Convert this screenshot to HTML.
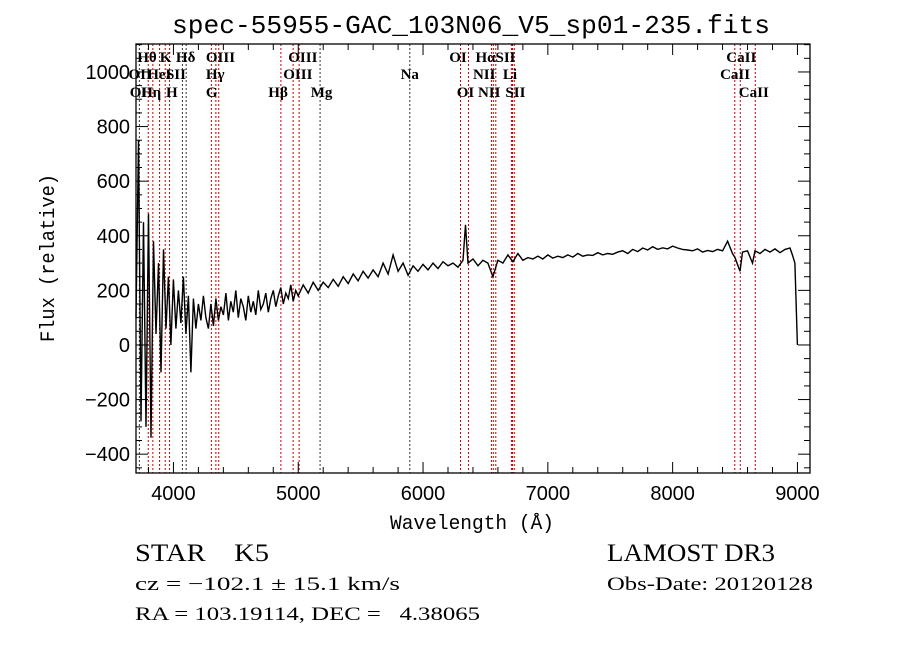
<!DOCTYPE html>
<html><head><meta charset="utf-8"><style>
html,body{margin:0;padding:0;background:#fff;}
svg{display:block;}
</style></head><body>
<svg id="chart" width="900" height="649" viewBox="0 0 900 649" xmlns="http://www.w3.org/2000/svg">
<rect x="0" y="0" width="900" height="649" fill="#fff"/>
<text x="172" y="33" textLength="598" lengthAdjust="spacingAndGlyphs" font-family="Liberation Mono, monospace" font-size="26" fill="#000">spec-55955-GAC_103N06_V5_sp01-235.fits</text>
<g id="lines"></g>
<g id="labels"></g>
<path id="spec" fill="none" stroke="#000" stroke-width="1.4"/>
<g id="axes"></g>
<text x="390" y="529" textLength="164" lengthAdjust="spacingAndGlyphs" font-family="Liberation Mono, monospace" font-size="20" fill="#000">Wavelength (Å)</text>
<text transform="translate(54,342) rotate(-90)" textLength="168" lengthAdjust="spacingAndGlyphs" font-family="Liberation Mono, monospace" font-size="20" fill="#000">Flux (relative)</text>
<text x="135" y="561" textLength="134" lengthAdjust="spacingAndGlyphs" font-family="Liberation Serif, serif" font-size="25" fill="#000" xml:space="preserve">STAR    K5</text>
<text x="135" y="590" textLength="265" lengthAdjust="spacingAndGlyphs" font-family="Liberation Serif, serif" font-size="19" fill="#000">cz = −102.1 ± 15.1 km/s</text>
<text x="135" y="620" textLength="345" lengthAdjust="spacingAndGlyphs" font-family="Liberation Serif, serif" font-size="19" fill="#000" xml:space="preserve">RA = 103.19114, DEC =   4.38065</text>
<text x="607" y="561" textLength="168" lengthAdjust="spacingAndGlyphs" font-family="Liberation Serif, serif" font-size="25" fill="#000">LAMOST DR3</text>
<text x="607" y="590" textLength="206" lengthAdjust="spacingAndGlyphs" font-family="Liberation Serif, serif" font-size="19" fill="#000">Obs-Date: 20120128</text>
</svg>
<script>
const wavelengths=[3700,3720,3740,3760,3780,3800,3820,3840,3860,3880,3900,3920,3940,3960,3980,4000,4020,4040,4060,4080,4100,4120,4140,4160,4180,4200,4220,4240,4260,4280,4300,4320,4340,4360,4380,
4400,4420,4440,4460,4480,4500,4520,4540,4560,4580,4600,4620,4640,4660,4680,4700,4720,4740,4760,4780,4800,4820,4840,4860,4880,4900,4920,4940,4960,4980,5000,5040,5080,5120,5160,5200,5240,5280,5320,5360,5400,5440,5480,5520,5560,5600,5640,5680,5720,5760,5800,5840,5880,5920,5960,6000,6040,6080,6120,6160,6200,6240,6280,6320,6340,6360,6400,6440,6480,6520,6560,6600,6640,6680,6720,6760,6800,6840,6880,6920,6960,7000,7040,7080,7120,7160,7200,7240,7280,7320,7360,7400,7440,7480,7520,7560,7600,7640,7680,7720,7760,7800,7840,7880,7920,7960,8000,8040,8080,8120,8160,8200,8240,8280,8320,8360,8400,8440,8480,8500,8540,8560,8600,8640,8660,8700,8740,8780,8820,8860,8900,8940,8960,8980,9000,9004];
const fluxes=[100,750,-280,450,-300,480,-340,380,40,300,-100,350,60,250,0,240,60,200,80,250,40,180,-100,170,60,150,90,180,100,60,150,70,170,90,140,
110,190,90,160,120,200,100,170,140,90,180,120,160,110,200,130,150,190,120,170,200,140,180,210,150,190,170,220,160,200,180,220,190,230,200,230,210,240,215,250,225,260,235,270,245,275,250,300,260,330,270,300,255,290,270,295,275,300,280,305,290,300,285,310,440,300,315,290,310,300,250,310,300,330,305,335,310,320,315,325,315,330,318,325,320,330,322,335,325,330,328,338,330,335,332,340,345,335,350,342,355,348,360,350,356,352,362,355,350,348,345,352,340,346,342,350,345,380,335,320,270,340,345,300,345,335,350,340,352,338,350,355,330,300,0];
const tickVals=[4000,5000,6000,7000,8000,9000];
const yTicks=[-400,-200,0,200,400,600,800,1000];
const lineWaves=[3727,3798,3835,3889,3934,3969,4072,4102,4304,4340,4363,4861,4959,5007,5175,5894,6300,6364,6548,6563,6583,6708,6717,6731,8498,8542,8662];
const lineRed=[0,1,1,1,1,1,0,0,1,1,1,1,1,1,0,0,1,1,1,1,1,1,1,1,1,1,1];
const labelTexts=["Hθ","K","Hδ","OIII","OIII","OI","HαSII","CaII","OII","HeI","SII","Hγ","OIII","Na","NII","Li","CaII","OII","Hη","H","G","Hβ","Mg","OI","NII","SII","CaII"];
const labelWaves=[3710,3890,4020,4260,4920,6210,6420,8430,3640,3790,3940,4260,4880,5820,6400,6640,8380,3650,3740,3940,4260,4760,5100,6270,6440,6660,8530];
const labelRows=[0,0,0,0,0,0,0,0,1,1,1,1,1,1,1,1,1,2,2,2,2,2,2,2,2,2,2];

const X0=136,X1=810,Y0=44,Y1=473;
const xmin=3700,xmax=3700+(X1-X0)/0.1248,ymin=-469,ymax=ymin+(Y1-Y0)/0.273;
const xs=w=>X0+(w-xmin)/(xmax-xmin)*(X1-X0);
const ys=v=>Y1-(v-ymin)/(ymax-ymin)*(Y1-Y0);
const NS="http://www.w3.org/2000/svg";
function mk(tag,attrs,parent){const e=document.createElementNS(NS,tag);for(const k in attrs)e.setAttribute(k,attrs[k]);parent.appendChild(e);return e;}

const lg=document.getElementById('lines');
lineWaves.forEach((w,i)=>{
  const l=mk('line',{x1:xs(w),x2:xs(w),y1:Y0,y2:Y1,stroke:lineRed[i]?'#c00000':'#333','stroke-width':1,'stroke-dasharray':'2,2'},lg);
  
  
});
const lb=document.getElementById('labels');
const rowY=[62,79,97];
labelTexts.forEach((t,i)=>{
  const e=mk('text',{x:xs(labelWaves[i]),y:rowY[labelRows[i]],'font-family':'Liberation Serif, serif','font-size':15,'font-weight':'bold',fill:'#000'},lb);
  e.textContent=t;
  
  
});

let d='';
wavelengths.forEach((w,i)=>{d+=(i?'L':'M')+xs(w).toFixed(1)+','+ys(fluxes[i]).toFixed(1);});
document.getElementById('spec').setAttribute('d',d);

const ax=document.getElementById('axes');
mk('rect',{x:X0,y:Y0,width:X1-X0,height:Y1-Y0,fill:'none',stroke:'#000','stroke-width':1.3},ax);
for(let w=3800;w<xmax;w+=200){
  const major=tickVals.includes(w);const L=major?11:6;
  mk('line',{x1:xs(w),x2:xs(w),y1:Y1,y2:Y1-L,stroke:'#000','stroke-width':1},ax);
  mk('line',{x1:xs(w),x2:xs(w),y1:Y0,y2:Y0+L,stroke:'#000','stroke-width':1},ax);
}
tickVals.forEach(w=>{
  const t=mk('text',{x:xs(w),y:Y1+27,'text-anchor':'middle','font-family':'Liberation Sans, sans-serif','font-size':20,fill:'#000'},ax);
  t.textContent=w;
  
  
});
for(let v=-450;v<=1100;v+=50){
  const major=yTicks.includes(v);const L=major?12:6;
  mk('line',{x1:X0,x2:X0+L,y1:ys(v),y2:ys(v),stroke:'#000','stroke-width':1},ax);
  mk('line',{x1:X1,x2:X1-L,y1:ys(v),y2:ys(v),stroke:'#000','stroke-width':1},ax);
}
yTicks.forEach(v=>{
  const t=mk('text',{x:X0-6,y:ys(v)+7,'text-anchor':'end','font-family':'Liberation Sans, sans-serif','font-size':20,fill:'#000'},ax);
  t.textContent=v<0?'−'+(-v):v;
  
  
});
</script>
</body></html>
